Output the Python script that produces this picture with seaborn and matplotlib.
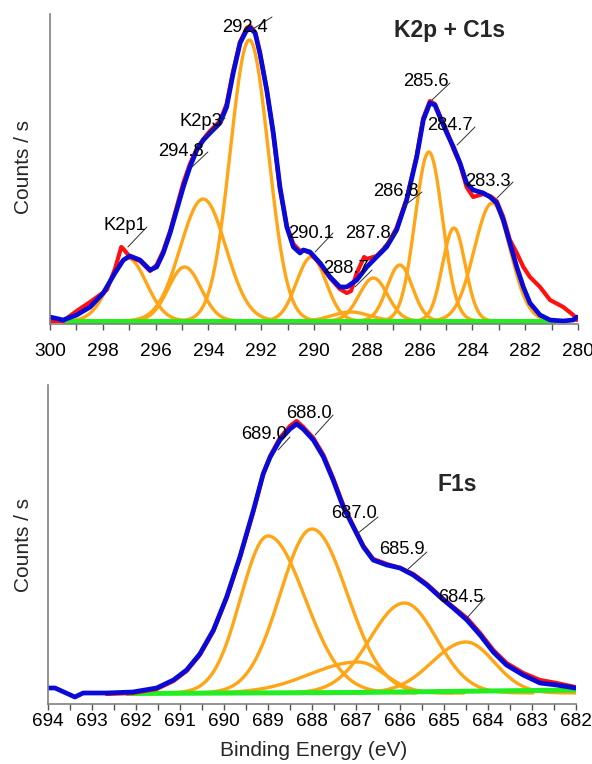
import numpy as np
import pandas as pd
import matplotlib
matplotlib.use("Agg")
import matplotlib.pyplot as plt
import seaborn as sns
from matplotlib.ticker import MultipleLocator

# ---------------- K2p + C1s region ----------------
kc_fit_be = [300.00, 299.50, 298.99, 298.48, 297.98, 297.54, 297.22, 296.97, 296.59, 296.21,
             295.96, 295.71, 295.45, 295.20, 294.95, 294.70, 294.44, 294.19, 293.94, 293.56,
             293.31, 293.06, 292.80, 292.55, 292.42, 292.23, 292.05, 291.79, 291.54, 291.29,
             291.03, 290.78, 290.53, 290.40, 290.15, 289.77, 289.39, 289.02, 288.76, 288.38,
             288.00, 287.63, 287.25, 286.87, 286.49, 286.11, 285.86, 285.61, 285.42, 285.23,
             284.97, 284.72, 284.47, 284.22, 283.97, 283.59, 283.33, 283.08, 282.83, 282.58,
             282.32, 282.07, 281.82, 281.44, 281.06, 280.56, 280.18, 280.05]
kc_fit_cps = [4, 1, 6, 14, 28, 48, 61, 65, 61, 51,
              54, 68, 88, 111, 134, 154, 171, 181, 188, 198,
              214, 248, 278, 291, 293, 288, 268, 231, 188, 134,
              94, 74, 68, 71, 69, 58, 44, 34, 34, 41,
              54, 64, 74, 91, 121, 164, 201, 218, 216, 204,
              188, 174, 158, 138, 131, 128, 124, 118, 101, 78,
              54, 34, 18, 6, 1, 0, 1, 4]

kc_raw_be = [300.00, 299.50, 298.99, 298.48, 297.85, 297.54, 297.30, 297.22, 296.97, 296.59,
             296.21, 295.96, 295.71, 295.45, 295.20, 294.95, 294.70, 294.44, 294.19, 293.94,
             293.56, 293.31, 293.06, 292.80, 292.55, 292.42, 292.23, 292.05, 291.79, 291.54,
             291.29, 291.03, 290.78, 290.53, 290.40, 290.15, 289.77, 289.39, 289.02, 288.76,
             288.60, 288.38, 288.10, 288.00, 287.63, 287.25, 286.87, 286.49, 286.11, 285.86,
             285.61, 285.42, 285.23, 284.97, 284.72, 284.47, 284.22, 283.97, 283.59, 283.33,
             283.08, 282.83, 282.58, 282.32, 282.07, 281.82, 281.44, 281.06, 280.56, 280.18,
             280.05]
kc_raw_cps = [0, 0, 10, 19, 31, 52, 74, 72, 64, 60,
              50, 56, 70, 90, 114, 138, 157, 172, 182, 190,
              200, 217, 250, 279, 293, 295, 289, 268, 231, 186,
              132, 95, 77, 70, 71, 68, 57, 43, 32, 28,
              30, 48, 64, 62, 65, 75, 93, 122, 165, 203,
              220, 217, 205, 190, 172, 157, 134, 124, 127, 125,
              120, 104, 81, 68, 54, 44, 34, 21, 14, 6,
              1]

kc_bg_be = [299.5, 280.9]
kc_bg_cps = [0, 0]

# fitted components: centre (eV), height, gaussian sigma (eV)
kc_peak_center = [297.05, 294.90, 294.20, 292.45, 290.10, 288.60, 287.75, 286.75, 285.65, 284.70, 283.25]
kc_peak_height = [63, 54, 122, 281, 64, 9, 43, 56, 169, 93, 118]
kc_peak_sigma = [0.70, 0.62, 0.86, 0.72, 0.56, 0.70, 0.54, 0.48, 0.52, 0.43, 0.68]

kc_labels = ["K2p1", "294.8", "K2p3", "292.4", "290.1", "287.8", "288.7", "286.8", "285.6", "284.7", "283.3"]
kc_label_pos = [(297.16, 95), (295.04, 169), (294.28, 200), (292.61, 294), (290.11, 88), (287.95, 87),
                (288.79, 52), (286.89, 130), (285.76, 239), (284.85, 195), (283.41, 140)]
kc_leader = [((297.05, 74), (296.33, 94)), ((294.62, 154), (294.02, 169)), ((294.13, 184), (293.37, 203)),
             ((292.50, 289), (291.59, 304)), ((289.96, 69), (289.28, 88)), ((287.39, 74), (286.93, 88)),
             ((288.45, 34), (287.80, 51)), ((286.63, 114), (285.91, 129)), ((285.53, 221), (284.85, 238)),
             ((284.58, 176), (283.90, 194)), ((283.07, 123), (282.46, 139))]

# ---------------- F1s region ----------------
f_fit_be = [694.00, 693.84, 693.39, 693.20, 692.67, 692.07, 691.53, 691.15, 690.85, 690.55,
            690.24, 689.94, 689.64, 689.33, 689.11, 688.95, 688.73, 688.50, 688.35, 688.20,
            687.97, 687.74, 687.52, 687.29, 687.06, 686.83, 686.61, 686.30, 686.00, 685.70,
            685.39, 685.09, 684.79, 684.48, 684.18, 683.88, 683.58, 683.20, 682.82, 682.44,
            682.02]
f_fit_cps = [5, 5, -4, 0, 0, 1, 5, 13, 23, 39,
             63, 96, 136, 183, 219, 236, 253, 264, 269, 264,
             253, 236, 213, 186, 166, 146, 133, 128, 125, 118,
             108, 96, 85, 73, 58, 41, 28, 18, 10, 8,
             5]
f_raw_be = f_fit_be[4:]
f_raw_cps = [-1, 0, 4, 12, 22, 38,
             62, 95, 135, 182, 219, 237, 255, 267, 272, 266,
             255, 238, 215, 188, 167, 147, 134, 129, 125, 119,
             109, 97, 86, 75, 60, 43, 30, 20, 13, 10,
             6]

f_bg_be = [692.2, 687.0, 682.0]
f_bg_cps = [-0.5, 0.5, 3]

# fitted components: centre, height, sigma on high-BE side, sigma on low-BE side
f_peak_center = [689.00, 688.00, 686.95, 685.90, 684.50]
f_peak_height = [157, 164, 31, 90, 51]
f_peak_sigma_hi = [0.62, 0.72, 1.10, 0.78, 0.77]
f_peak_sigma_lo = [0.84, 0.80, 0.60, 0.73, 0.64]

f_labels = ["689.0", "688.0", "687.0", "685.9", "684.5"]
f_label_pos = [(689.09, 258), (688.07, 279), (687.05, 180), (685.95, 144), (684.61, 96)]
f_leader = [((688.77, 243), (688.50, 256)), ((687.93, 258), (687.52, 278)), ((686.95, 160), (686.50, 176)),
            ((685.84, 123), (685.39, 141)), ((684.48, 75), (684.07, 95))]

C_RAW = "#ff1010"
C_FIT = "#0a0ad8"
C_COMP = "#ffa516"
C_BG = "#22ee22"
C_AXIS = "#808080"

sns.set_theme(style="white")
plt.rcParams["font.family"] = ["Liberation Sans", "DejaVu Sans"]


def component_curve(center, height, s_hi, s_lo, n=240):
    be = np.linspace(center - 4.0 * s_lo, center + 4.0 * s_hi, n)
    s = np.where(be >= center, s_hi, s_lo)
    return pd.DataFrame({"be": be, "cps": height * np.exp(-0.5 * ((be - center) / s) ** 2)})


def draw_panel(ax, comps, bg, raw, fit, labels, label_pos, leaders):
    for df in comps:
        sns.lineplot(data=df, x="be", y="cps", ax=ax, color=C_COMP, lw=2.4,
                     sort=False, estimator=None)
    sns.lineplot(x=bg[0], y=bg[1], ax=ax, color=C_BG, lw=3.6, sort=False, estimator=None)
    sns.lineplot(x=raw[0], y=raw[1], ax=ax, color=C_RAW, lw=3.0, sort=False, estimator=None)
    sns.lineplot(x=fit[0], y=fit[1], ax=ax, color=C_FIT, lw=3.4, sort=False, estimator=None)
    for (p0, p1) in leaders:
        ax.plot([p0[0], p1[0]], [p0[1], p1[1]], color="#303030", lw=0.7)
    for txt, (x, y) in zip(labels, label_pos):
        ax.text(x, y, txt, ha="center", va="center", fontsize=13.2, color="black")

    ax.set_xlabel("")
    ax.set_ylabel("")
    ax.set_yticks([])
    for side in ("top", "right"):
        ax.spines[side].set_visible(False)
    for side in ("left", "bottom"):
        ax.spines[side].set_color(C_AXIS)
        ax.spines[side].set_linewidth(1.2)
    ax.tick_params(axis="x", which="both", direction="out", length=4.5, width=1.0,
                   color="#555555", labelsize=13.7, labelcolor="black", bottom=True)
    ax.grid(False)


fig = plt.figure(figsize=(5.92, 7.64), dpi=100)

# top panel
ax1 = fig.add_axes([50 / 592, 1 - 324 / 764, 528 / 592, 310 / 764])
kc_comps = [component_curve(c, h, s, s) for c, h, s in zip(kc_peak_center, kc_peak_height, kc_peak_sigma)]
draw_panel(ax1, kc_comps, (kc_bg_be, kc_bg_cps), (kc_raw_be, kc_raw_cps), (kc_fit_be, kc_fit_cps),
           kc_labels, kc_label_pos, kc_leader)
ax1.set_xlim(300, 280)
ax1.set_ylim(-3, 307)
ax1.xaxis.set_major_locator(MultipleLocator(2))
ax1.xaxis.set_minor_locator(MultipleLocator(1))
ax1.tick_params(axis="x", which="major", pad=9)
ax1.text(284.85, 290, "K2p + C1s", ha="center", va="center", fontsize=16.5, fontweight="bold")

# bottom panel
ax2 = fig.add_axes([48 / 592, 1 - 704 / 764, 528 / 592, 319 / 764])
f_comps = [component_curve(c, h, sh, sl) for c, h, sh, sl in
           zip(f_peak_center, f_peak_height, f_peak_sigma_hi, f_peak_sigma_lo)]
draw_panel(ax2, f_comps, (f_bg_be, f_bg_cps), (f_raw_be, f_raw_cps), (f_fit_be, f_fit_cps),
           f_labels, f_label_pos, f_leader)
ax2.set_xlim(694, 682)
ax2.set_ylim(-11, 308)
ax2.xaxis.set_major_locator(MultipleLocator(1))
ax2.xaxis.set_minor_locator(MultipleLocator(0.5))
ax2.tick_params(axis="x", which="major", pad=2)
ax2.text(684.7, 208, "F1s", ha="center", va="center", fontsize=16.5, fontweight="bold")

fig.text(24 / 592, 1 - 167 / 764, "Counts / s", rotation=90, ha="center", va="center", fontsize=15)
fig.text(24 / 592, 1 - 545 / 764, "Counts / s", rotation=90, ha="center", va="center", fontsize=15)
fig.text(314 / 592, 1 - 751 / 764, "Binding Energy (eV)", ha="center", va="center", fontsize=15)

fig.savefig("out.png", dpi=100)
